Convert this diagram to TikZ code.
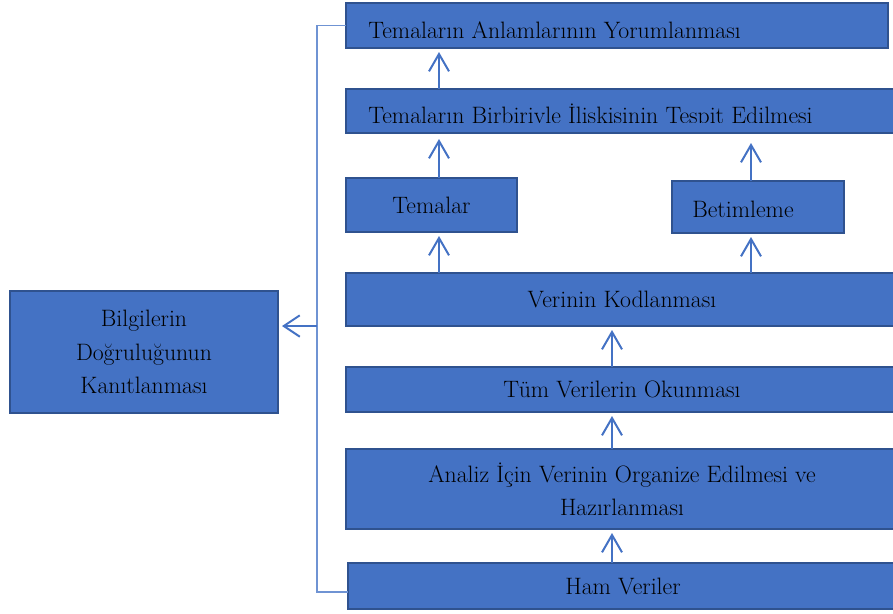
\documentclass[tikz,border=0pt]{standalone}
\usepackage{tikz}
\usetikzlibrary{positioning, arrows.meta}

\definecolor{boxfill}{HTML}{4472C4}
\definecolor{boxline}{HTML}{2F528F}
\definecolor{railblue}{HTML}{6F93D3}

\tikzset{
  bar/.style={draw=boxline, fill=boxfill, line width=1.2pt, inner sep=0pt, outer sep=0pt,
    anchor=south west, align=center, font=\fontsize{17.8}{24.5}\selectfont},
  up/.style={draw=boxfill, line width=1.5pt,
    -{Straight Barb[length=13pt, width=15pt, line width=1.5pt]}, shorten >=3pt},
  rail/.style={draw=railblue, line width=1.1pt},
}

\begin{document}
\begin{tikzpicture}[x=0.75pt, y=-0.75pt]

  \useasboundingbox (0,0) rectangle (893,614);
  \clip (0,0) rectangle (893,614);

  % Define nodes
  \node[bar, minimum width=412.5pt, minimum height=34.5pt] (ham) at (348,609) {Ham Veriler};
  \node[bar, minimum width=414pt, minimum height=60pt, above=25.5pt of ham.north west,
    anchor=south west, xshift=-1.5pt] (analiz) {Analiz İçin Verinin Organize Edilmesi ve\\Hazırlanması};
  \node[bar, minimum width=414pt, minimum height=33.75pt, above=27.75pt of analiz.north west,
    anchor=south west] (okuma) {Tüm Verilerin Okunması};
  \node[bar, minimum width=414pt, minimum height=39.75pt, above=30.75pt of okuma.north west,
    anchor=south west] (kod) {Verinin Kodlanması};
  \node[bar, minimum width=128.25pt, minimum height=40.5pt, above=30.75pt of kod.north west,
    anchor=south west] (temalar) {Temalar};
  \node[bar, minimum width=129pt, minimum height=39pt, right=116.25pt of temalar.south east,
    anchor=south west, yshift=-0.75pt,
    label={[font=\fontsize{17.8}{24.5}\selectfont, xshift=-11.25pt, yshift=-2pt]center:Betimleme}] (betim) {};
  \node[bar, minimum width=414pt, minimum height=33pt, above=33.75pt of temalar.north west,
    anchor=south west] (iliski) {};
  \node[bar, minimum width=406.5pt, minimum height=33.75pt, above=30.75pt of iliski.north west,
    anchor=south west] (yorum) {};
  \node[bar, minimum width=201pt, minimum height=91.5pt, font=\fontsize{17.8}{25}\selectfont]
    (bilgi) at (10,413) {Bilgilerin\\Doğruluğunun\\Kanıtlanması};

  % Texts cut by the box bottoms
  \begin{scope}
    \clip (yorum.north west) rectangle ([yshift=8pt]yorum.south east);
    \node[anchor=base west, inner sep=0pt, font=\fontsize{17.8}{24.5}\selectfont]
      (yorumtext) at ([xshift=16.5pt, yshift=7.5pt]yorum.south west) {Temaların Anlamlarının Yorumlanması};
  \end{scope}
  \begin{scope}
    \clip (iliski.north west) rectangle ([yshift=8pt]iliski.south east);
    \node[anchor=base west, inner sep=0pt, font=\fontsize{17.8}{24.5}\selectfont]
      (iliskitext) at ([xshift=16.5pt, yshift=7.5pt]iliski.south west) {Temaların Birbiriyle İlişkisinin Tespit Edilmesi};
  \end{scope}

  % Arrow lanes
  \coordinate (cl) at (439,0);
  \coordinate (cm) at (612,0);
  \coordinate (cr) at (751,0);
  \coordinate (rail) at (317,326);

  % Connect the nodes
  \draw[up] (ham.north -| cm) -- (analiz.south -| cm);
  \draw[up] (analiz.north -| cm) -- (okuma.south -| cm);
  \draw[up] (okuma.north -| cm) -- (kod.south -| cm);
  \draw[up] (kod.north -| cl) -- (temalar.south -| cl);
  \draw[up] (kod.north -| cr) -- (betim.south -| cr);
  \draw[up, shorten >=4.5pt] (temalar.north -| cl) -- (iliski.south -| cl);
  \draw[up, shorten >=7.5pt] (betim.north -| cr) -- (iliski.south -| cr);
  \draw[up] (iliski.north -| cl) -- (yorum.south -| cl);

  % Side rail
  \draw[rail] (yorum.west) -| (rail) |- ([yshift=-4.5pt]ham.west);
  \draw[rail, -{Straight Barb[length=12pt, width=16pt, line width=1.5pt]}, draw=boxfill, shorten >=3pt]
    (rail) -- (rail -| bilgi.east);

\end{tikzpicture}
\end{document}
